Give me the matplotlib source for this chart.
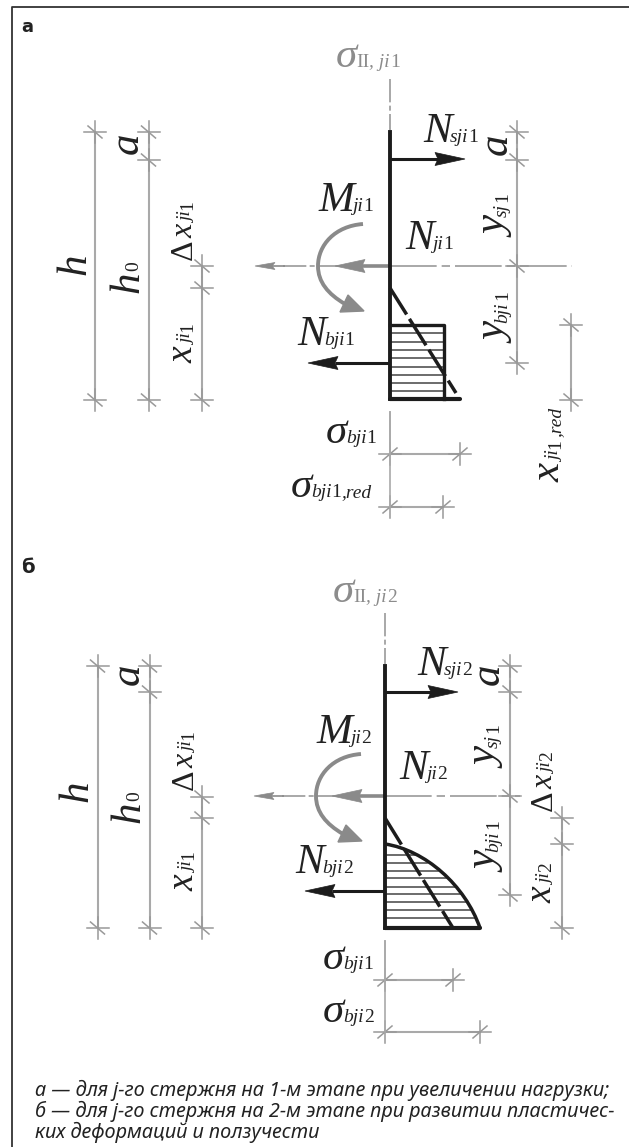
#!/usr/bin/python
"""
Stress diagrams for a reinforced bar at two loading stages, drawn in image
pixels (axes run 0-629 by 1147-0).
"""

import re

import matplotlib
matplotlib.use("Agg")
import matplotlib.pyplot as plt
import numpy as np
from matplotlib.patches import PathPatch
from matplotlib.path import Path

DIM = "#a9a9a9"
TICK = "#999999"
AXIS = "#9a9a9a"
GREY = "#8c8c8c"
ARROW_GREY = "#8a8a8a"
INK = "#222222"

CAPTION = [
    "а — для j-го стержня на 1-м этапе при увеличении нагрузки;",
    "б — для j-го стержня на 2-м этапе при развитии пластичес-",
    "ких деформаций и ползучести",
]
CAPTION_Y = [1096, 1117, 1138]

# ---- panel a ----
A_X0 = 390
A_AXIS_Y = 266
A_TOP = 132
A_BOTTOM = 399
A_VDIMS = [(95, [132, 400]), (148.5, [132, 160, 400]), (202, [266, 288, 400]),
           (517, [132, 160, 266, 363]), (571, [325, 400])]
A_HDIMS = [(454, [390, 460]), (507, [390, 443])]
A_HATCH_Y = [333, 342, 350, 358, 367, 375, 383, 391]
A_BLOCK_X = 444
A_BLOCK_TOP = 325
A_BASE_END = 460
A_DASH = [(390, 288), (456, 393)]
A_LABELS = [
    (336, 67, "σ", "II, ji1", 0, GREY),
    (423, 142, "N", "sji1", 0, INK),
    (318, 211, "M", "ji1", 0, INK),
    (405, 249, "N", "ji1", 0, INK),
    (297, 345, "N", "bji1", 0, INK),
    (326, 443, "σ", "bji1", 0, INK),
    (291, 497, "σ", "bji1,red", 0, INK),
    (85, 275, "h", "", 90, INK),
    (138, 154, "a", "", 90, INK),
    (138, 293, "h", "0", 90, INK),
    (507, 155, "a", "", 90, INK),
    (507, 237, "y", "sj1", 90, INK),
    (507, 343, "y", "bji1", 90, INK),
    (560, 482, "x", "ji1,red", 90, INK),
]
A_SMALL = [(192, 260, "Δx", "ji1", 23), (192, 363, "x", "ji1", 27)]

# ---- panel b ----
B_X0 = 385
B_AXIS_Y = 796
B_TOP = 666
B_BOTTOM = 928
B_VDIMS = [(97.5, [666, 928]), (149.5, [666, 692, 928]), (202, [797, 818, 928]),
           (510, [666, 692, 796, 895]), (562, [818, 844, 928])]
B_HDIMS = [(980, [385, 453]), (1032, [385, 480])]
B_CURVE = [(385, 844), (425, 850), (465, 885), (480, 928)]
B_CURVE_X = [385, 396, 407, 427, 443, 457, 468, 480]
B_CURVE_Y = [844, 846, 850, 863, 875, 888, 905, 928]
B_HATCH_Y = [855, 863, 871, 878, 887, 894, 902, 910, 918]
B_DASH = [(385, 818), (453, 928)]
B_LABELS = [
    (333, 602, "σ", "II, ji2", 0, GREY),
    (417, 675, "N", "sji2", 0, INK),
    (316, 743, "M", "ji2", 0, INK),
    (399, 779, "N", "ji2", 0, INK),
    (295, 873, "N", "bji2", 0, INK),
    (323, 969, "σ", "bji1", 0, INK),
    (323, 1022, "σ", "bji2", 0, INK),
    (87, 802, "h", "", 90, INK),
    (139, 685, "a", "", 90, INK),
    (139, 823, "h", "0", 90, INK),
    (499, 685, "a", "", 90, INK),
    (498, 768, "y", "sj1", 90, INK),
    (498, 872, "y", "bji1", 90, INK),
]
B_SMALL = [(193, 790, "Δx", "ji1", 23), (193, 891, "x", "ji1", 27),
           (552, 811, "Δx", "ji2", 23), (551, 903, "x", "ji2", 27)]

plt.rcParams["font.family"] = ["Liberation Serif"]
fig = plt.figure(figsize=(6.29, 11.47), dpi=100)
ax = fig.add_axes([0, 0, 1, 1])
ax.set_xlim(0, 629)
ax.set_ylim(1147, 0)
ax.axis("off")
renderer = fig.canvas.get_renderer()


def run(x, y, string, size, rotation, color, tight):
    """Draw a string piece by piece, upright where the notation is upright."""
    for piece in re.findall(r"[0-9IΔ]+|[^0-9IΔ]+", string):
        style = "normal" if re.match(r"[0-9IΔ]", piece) else "italic"
        t = ax.text(x, y, piece, fontsize=size, style=style, color=color,
                    rotation_mode="anchor", ha="left", va="baseline")
        # measured flat; agg places rotated glyphs a bit short, hence the +2
        advance = t.get_window_extent(renderer).width * tight
        t.set_rotation(rotation)
        if rotation:
            y -= advance + 2
        else:
            x += advance
    return x, y


def label(x, y, main, sub, rotation, color, size=31, sub_size=14):
    x, y = run(x, y, main, size, rotation, color, 0.95)
    if sub:
        run(x, y, sub, sub_size, rotation, color, 1.0)


def vdim(x, ys):
    ax.plot([x, x], [ys[0], ys[-1]], color=DIM, lw=1.5, zorder=1)
    for y in ys:
        ax.plot([x, x], [y - 11, y + 11], color=TICK, lw=1.1, zorder=1)
        ax.plot([x - 11, x + 11], [y, y], color=TICK, lw=1.1, zorder=1)
        ax.plot([x - 7, x + 7], [y - 6, y + 6], color=TICK, lw=1.1, zorder=1)


def hdim(y, xs):
    ax.plot([xs[0], xs[-1]], [y, y], color=DIM, lw=1.5, zorder=1)
    for x in xs:
        ax.plot([x, x], [y - 11, y + 11], color=TICK, lw=1.1, zorder=1)
        ax.plot([x - 11, x + 11], [y, y], color=TICK, lw=1.1, zorder=1)
        ax.plot([x - 7, x + 7], [y + 6, y - 6], color=TICK, lw=1.1, zorder=1)


def arrow(x_from, x_to, y, color, lw, head=30, half=6.5):
    d = 1 if x_to > x_from else -1
    ax.plot([x_from, x_to - d * (head - 3)], [y, y], color=color, lw=lw,
            solid_capstyle="butt", zorder=3)
    ax.fill([x_to, x_to - d * head, x_to - d * (head - 3), x_to - d * head],
            [y, y - half, y, y + half], color=color, lw=0.5, zorder=3)


def moment(dx, dy):
    verts = [(363, 224), (335, 226), (318, 245), (318, 266),
             (318, 282), (328, 294), (345, 304)]
    verts = [(x + dx, y + dy) for x, y in verts]
    codes = [Path.MOVETO] + [Path.CURVE4] * 6
    ax.add_patch(PathPatch(Path(verts, codes), fill=False, ec=ARROW_GREY, lw=2.8))
    ax.fill(np.array([364, 340, 348]) + dx, np.array([311, 312, 295]) + dy,
            color=ARROW_GREY, zorder=3)


def panel(x0, axis_y, top, bottom, axis_left, axis_right, axis_top, vdims, hdims,
          labels, small, s_arrow, b_arrow, n_tip):
    # section axes
    ax.plot([x0, x0], [axis_top, top - 2], color=AXIS, lw=1.2,
            ls=(0, (14, 2, 3, 2)), zorder=1)
    ax.plot([axis_left + 28, x0], [axis_y, axis_y], color=AXIS, lw=1.2,
            ls=(0, (14, 2, 3, 2)), zorder=1)
    ax.plot([x0, axis_right], [axis_y, axis_y], color=AXIS, lw=1.2,
            ls=(0, (28, 3, 5, 3)), zorder=1)
    arrow(axis_left + 30, axis_left, axis_y, ARROW_GREY, 1.2, head=20, half=3.5)
    arrow(x0, n_tip, axis_y, ARROW_GREY, 2.6, head=30, half=6.5)

    for x, ys in vdims:
        vdim(x, ys)
    for y, xs in hdims:
        hdim(y, xs)
    for y in [hdims[0][0], hdims[1][0]]:
        ax.plot([x0, x0], [bottom + 13, y], color=DIM, lw=1.2, zorder=1)

    ax.plot([x0, x0], [top, bottom], color="#1c1c1c", lw=2.8, zorder=4)
    arrow(x0, s_arrow[0], s_arrow[1], "#1c1c1c", 2.2)
    arrow(x0, b_arrow[0], b_arrow[1], "#1c1c1c", 2.2)

    for x, y, main, sub, rot, color in labels:
        label(x, y, main, sub, rot, color)
    for x, y, main, sub, size in small:
        label(x, y, main, sub, 90, INK, size=size, sub_size=14)


# page frame, open on the right and at the bottom
ax.plot([12, 12, 629], [1147, 7, 7], color="#333333", lw=1.3)

ax.text(21, 32, "а", fontsize=13, fontweight="bold", family="DejaVu Sans", color="#222222")
ax.text(21, 573, "б", fontsize=14, fontweight="bold", family="DejaVu Sans", color="#222222")

panel(A_X0, A_AXIS_Y, A_TOP, A_BOTTOM, 255, 572, 79, A_VDIMS, A_HDIMS,
      A_LABELS, A_SMALL, (465, 159), (308, 363), 335)
moment(0, 0)
for y in A_HATCH_Y:
    ax.plot([A_X0, A_BLOCK_X], [y, y], color="#444444", lw=1.1, zorder=2)
ax.plot([A_X0, A_BLOCK_X, A_BLOCK_X], [A_BLOCK_TOP, A_BLOCK_TOP, A_BOTTOM],
        color="#1c1c1c", lw=2.4, zorder=4)
ax.plot([A_X0, A_BASE_END], [A_BOTTOM, A_BOTTOM], color="#1c1c1c", lw=3,
        solid_capstyle="round", zorder=4)
ax.plot(*zip(*A_DASH), color="#1c1c1c", lw=2.5, ls=(0, (9, 1.5)), zorder=5)

panel(B_X0, B_AXIS_Y, B_TOP, B_BOTTOM, 254, 520, 613, B_VDIMS, B_HDIMS,
      B_LABELS, B_SMALL, (458, 692), (305, 891), 332)
moment(-2, 530)
for y in B_HATCH_Y:
    ax.plot([B_X0, np.interp(y, B_CURVE_Y, B_CURVE_X)], [y, y], color="#444444",
            lw=1.1, zorder=2)
ax.add_patch(PathPatch(Path(B_CURVE, [Path.MOVETO] + [Path.CURVE4] * 3), fill=False,
                       ec="#1c1c1c", lw=2.5, zorder=4))
ax.plot([B_X0, B_CURVE[-1][0]], [B_BOTTOM, B_BOTTOM], color="#1c1c1c", lw=3,
        solid_capstyle="round", zorder=4)
ax.plot(*zip(*B_DASH), color="#1c1c1c", lw=2.5, ls=(0, (9, 1.5)), zorder=5)

for y, line in zip(CAPTION_Y, CAPTION):
    ax.text(35, y, line, fontsize=14.3, style="italic", family="Noto Sans",
            color="#222222", ha="left", va="baseline")

fig.savefig("out.png", dpi=100)
